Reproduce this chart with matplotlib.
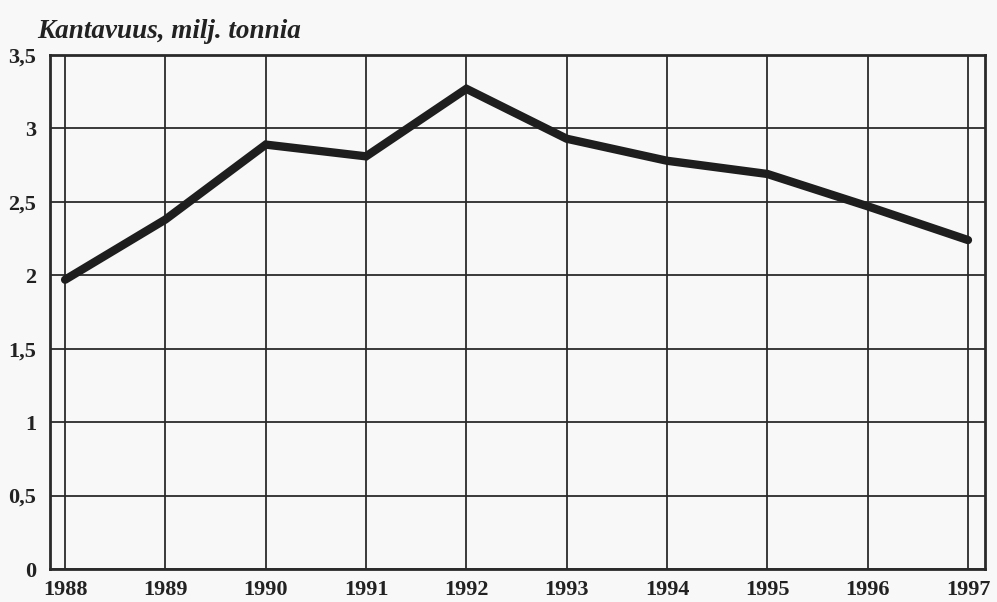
import matplotlib
matplotlib.use("Agg")
import matplotlib.pyplot as plt

years = [1988, 1989, 1990, 1991, 1992, 1993, 1994, 1995, 1996, 1997]
kantavuus = [1.97, 2.38, 2.89, 2.81, 3.27, 2.93, 2.78, 2.69, 2.47, 2.24]
yticks = [0, 0.5, 1, 1.5, 2, 2.5, 3, 3.5]
ylabels = ["0", "0,5", "1", "1,5", "2", "2,5", "3", "3,5"]

plt.rcParams['font.family'] = ['Liberation Serif', 'DejaVu Serif']

fig = plt.figure(figsize=(9.97, 6.02), dpi=100, facecolor='#f8f8f8')
ax = fig.add_axes([0.0502, 0.0548, 0.9378, 0.8538])
ax.set_facecolor('#f8f8f8')

ax.plot(years, kantavuus, color='#1e1e1e', lw=6, solid_capstyle='round', solid_joinstyle='miter', zorder=3)

ax.set_xlim(1987.85, 1997.17)
ax.set_ylim(0, 3.5)
ax.set_xticks(years)
ax.set_xticklabels([str(y) for y in years], fontsize=16, fontweight='bold')
ax.set_yticks(yticks)
ax.set_yticklabels(ylabels, fontsize=16, fontweight='bold')
ax.tick_params(axis='x', length=0, pad=8, colors='#222222')
ax.tick_params(axis='y', length=0, pad=10, colors='#222222')
ax.grid(True, color='#2a2a2a', lw=1.3)
for s in ax.spines.values():
    s.set_linewidth(2)
    s.set_color('#2a2a2a')

fig.text(0.037, 0.947, "Kantavuus, milj. tonnia", fontsize=19.5, fontweight='bold',
         fontstyle='italic', color='#222222', va='center', ha='left')

fig.savefig("out.png", dpi=100, facecolor=fig.get_facecolor())
